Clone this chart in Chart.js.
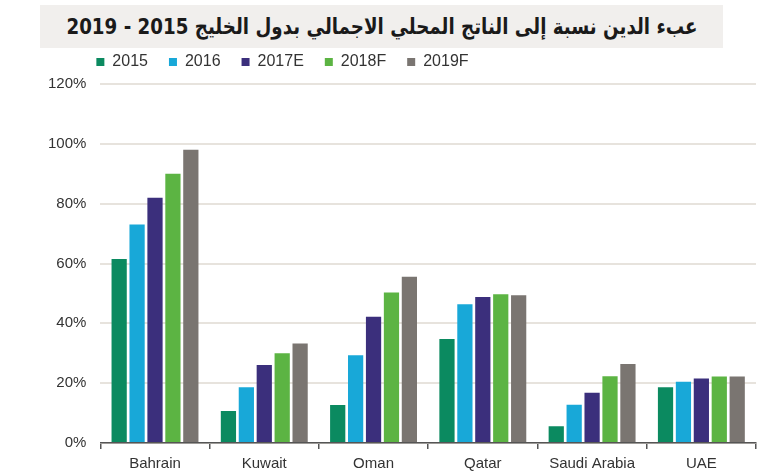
<!DOCTYPE html>
<html>
<head>
<meta charset="utf-8">
<script src="https://cdn.jsdelivr.net/npm/chart.js@4.4.1/dist/chart.umd.min.js"></script>
<style>
  body { margin: 0; background: #fff; }
  #wrap { position: relative; width: 770px; height: 476px; }
  #title {
    position: absolute; left: 40px; top: 5px; width: 683px; height: 43px;
    background: #f1efed; color: #1a1a1a; overflow: hidden;
  }
  #title span {
    position: absolute; left: 50%; top: 0;
    white-space: nowrap; direction: rtl;
    font-family: "DejaVu Sans", sans-serif; font-weight: bold; font-size: 22px;
    line-height: 43px; transform: translateX(-50%) scaleX(0.83);
  }
  #graph { position: absolute; left: 0; top: 0; }
</style>
</head>
<body>
<div id="wrap">
  <canvas id="graph" width="770" height="476"></canvas>
  <div id="title"><span>عبء الدين نسبة إلى الناتج المحلي الاجمالي بدول الخليج 2015 - 2019</span></div>
</div>
<script>
let countries = ["Bahrain", "Kuwait", "Oman", "Qatar", "Saudi Arabia", "UAE"];
let seriesNames = ["2015", "2016", "2017E", "2018F", "2019F"];
let seriesColors = ['#0b8a60', '#18a8d8', '#3b2f7c', '#5cb443', '#7a7571'];

let debt2015 = [61.5, 10.7, 12.7, 34.8, 5.6, 18.6];
let debt2016 = [73, 18.6, 29.3, 46.4, 12.8, 20.5];
let debt2017E = [82, 26.1, 42.2, 48.8, 16.8, 21.6];
let debt2018F = [90, 30, 50.3, 49.7, 22.3, 22.2];
let debt2019F = [98, 33.3, 55.6, 49.4, 26.4, 22.2];

let yTicks = [0, 20, 40, 60, 80, 100, 120];

let allSeries = [debt2015, debt2016, debt2017E, debt2018F, debt2019F];

const dataGraph = {
  labels: countries,
  datasets: allSeries.map((vals, i) => ({
    label: seriesNames[i],
    data: vals,
    backgroundColor: seriesColors[i],
    borderWidth: 0,
    categoryPercentage: 0.82,
    barPercentage: 0.85
  }))
};

// tweak legend height and move it left like the original
const legendTweak = {
  id: 'legendTweak',
  beforeInit(chart) {
    const fit = chart.legend.fit;
    chart.legend.fit = function () {
      fit.bind(chart.legend)();
      this.height += 4;
    };
  },
  afterUpdate(chart) {
    const lg = chart.legend;
    lg.left -= 25;
    lg.right -= 25;
  }
};

const configGraph = {
  type: 'bar',
  data: dataGraph,
  plugins: [legendTweak],
  options: {
    responsive: false,
    animation: false,
    layout: { padding: { top: 33, left: 34, right: 14, bottom: -3 } },
    plugins: {
      legend: {
        position: 'top',
        align: 'start',
        fullSize: false,
        labels: {
          boxWidth: 8,
          boxHeight: 8,
          padding: 21,
          color: '#333',
          font: { family: 'Liberation Sans, Arial, sans-serif', size: 16 }
        }
      },
      title: { display: false },
      tooltip: { enabled: false }
    },
    scales: {
      x: {
        grid: { drawOnChartArea: false, drawTicks: true, tickLength: 6, offset: true, color: '#555', lineWidth: 1.5 },
        border: { display: true, color: '#555', width: 1.5 },
        ticks: { color: '#333', padding: 6, font: { family: 'Liberation Sans, Arial, sans-serif', size: 15 } }
      },
      y: {
        min: 0,
        max: 120,
        afterBuildTicks(scale) { scale.ticks = yTicks.map(v => ({ value: v })); },
        grid: { color: '#e7e3dd', lineWidth: 2, drawTicks: false },
        border: { display: false },
        ticks: {
          color: '#333',
          padding: 14,
          font: { family: 'Liberation Sans, Arial, sans-serif', size: 15 },
          callback: v => v + '%'
        }
      }
    }
  }
};

let graphVisible = new Chart(document.getElementById("graph"), configGraph);
</script>
</body>
</html>
